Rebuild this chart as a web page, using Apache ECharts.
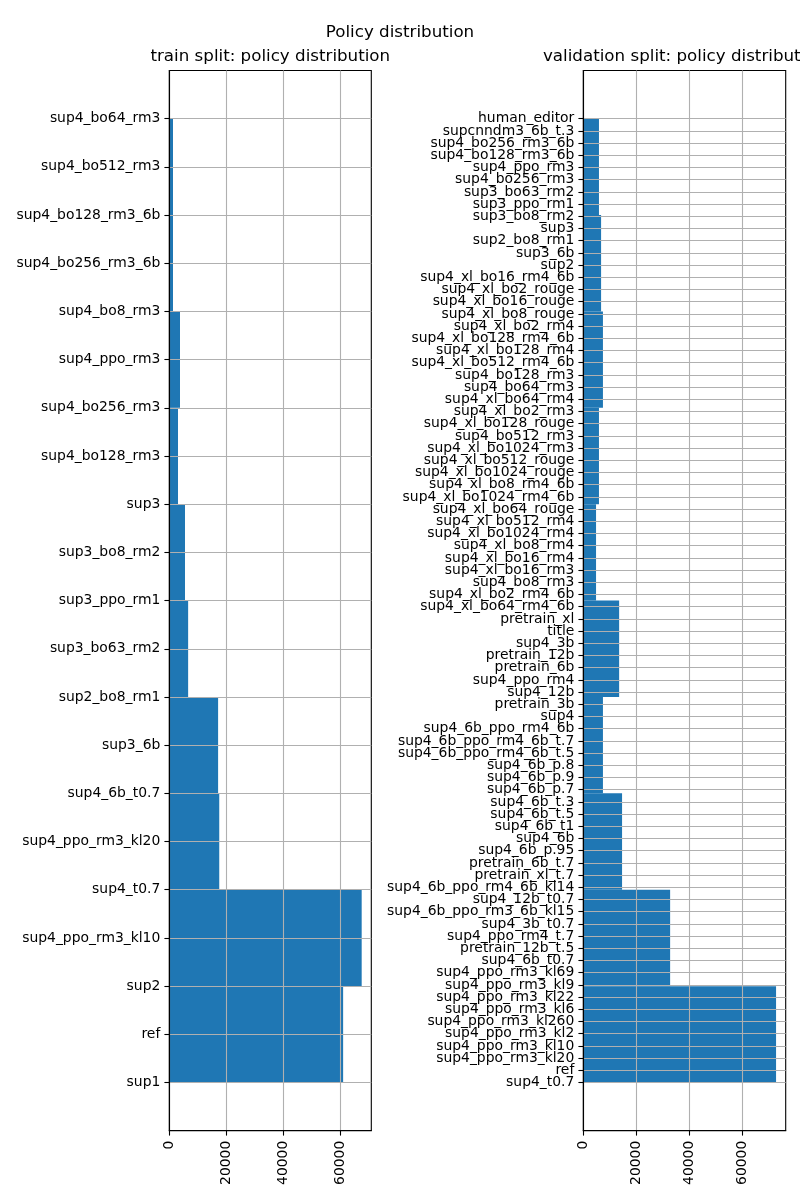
<!DOCTYPE html>
<html><head><meta charset="utf-8">
<script src="https://cdn.jsdelivr.net/npm/echarts@6/dist/echarts.min.js"></script>
<style>html,body{margin:0;padding:0;background:#fff}#c{width:800px;height:1200px}</style>
</head><body><div id="c"></div>
<script>
// categories listed from bottom (index 0) to top
const trainCategories = [
  'sup1','ref','sup2','sup4_ppo_rm3_kl10','sup4_t0.7','sup4_ppo_rm3_kl20','sup4_6b_t0.7','sup3_6b',
  'sup2_bo8_rm1','sup3_bo63_rm2','sup3_ppo_rm1','sup3_bo8_rm2','sup3','sup4_bo128_rm3','sup4_bo256_rm3',
  'sup4_ppo_rm3','sup4_bo8_rm3','sup4_bo256_rm3_6b','sup4_bo128_rm3_6b','sup4_bo512_rm3','sup4_bo64_rm3'
];
// histogram counts of the 10 bins, bottom to top
const trainCounts = [60900, 67400, 17500, 17100, 6600, 5500, 3050, 3750, 1300, 1300];

const valCategories = [
  'sup4_t0.7','ref','sup4_ppo_rm3_kl20','sup4_ppo_rm3_kl10','sup4_ppo_rm3_kl2','sup4_ppo_rm3_kl260',
  'sup4_ppo_rm3_kl6','sup4_ppo_rm3_kl22','sup4_ppo_rm3_kl9','sup4_ppo_rm3_kl69','sup4_6b_t0.7',
  'pretrain_12b_t.5','sup4_ppo_rm4_t.7','sup4_3b_t0.7','sup4_6b_ppo_rm3_6b_kl15','sup4_12b_t0.7',
  'sup4_6b_ppo_rm4_6b_kl14','pretrain_xl_t.7','pretrain_6b_t.7','sup4_6b_p.95','sup4_6b','sup4_6b_t1',
  'sup4_6b_t.5','sup4_6b_t.3','sup4_6b_p.7','sup4_6b_p.9','sup4_6b_p.8','sup4_6b_ppo_rm4_6b_t.5',
  'sup4_6b_ppo_rm4_6b_t.7','sup4_6b_ppo_rm4_6b','sup4','pretrain_3b','sup4_12b','sup4_ppo_rm4',
  'pretrain_6b','pretrain_12b','sup4_3b','title','pretrain_xl','sup4_xl_bo64_rm4_6b','sup4_xl_bo2_rm4_6b',
  'sup4_bo8_rm3','sup4_xl_bo16_rm3','sup4_xl_bo16_rm4','sup4_xl_bo8_rm4','sup4_xl_bo1024_rm4',
  'sup4_xl_bo512_rm4','sup4_xl_bo64_rouge','sup4_xl_bo1024_rm4_6b','sup4_xl_bo8_rm4_6b',
  'sup4_xl_bo1024_rouge','sup4_xl_bo512_rouge','sup4_xl_bo1024_rm3','sup4_bo512_rm3','sup4_xl_bo128_rouge',
  'sup4_xl_bo2_rm3','sup4_xl_bo64_rm4','sup4_bo64_rm3','sup4_bo128_rm3','sup4_xl_bo512_rm4_6b',
  'sup4_xl_bo128_rm4','sup4_xl_bo128_rm4_6b','sup4_xl_bo2_rm4','sup4_xl_bo8_rouge','sup4_xl_bo16_rouge',
  'sup4_xl_bo2_rouge','sup4_xl_bo16_rm4_6b','sup2','sup3_6b','sup2_bo8_rm1','sup3','sup3_bo8_rm2',
  'sup3_ppo_rm1','sup3_bo63_rm2','sup4_bo256_rm3','sup4_ppo_rm3','sup4_bo128_rm3_6b','sup4_bo256_rm3_6b',
  'supcnndm3_6b_t.3','human_editor'
];
const valCounts = [72600, 32700, 14600, 7400, 13500, 4800, 5900, 7400, 6700, 5900];

const xTicks = [0, 20000, 40000, 60000];

function bins(cats, counts) {
  const n = counts.length, hi = cats.length - 1, w = hi / n;
  return counts.map((c, i) => [i * w, (i + 1) * w, c]);
}
function idx(cats) { return cats.map((_, i) => i); }

const FONT = 'DejaVu Sans';
const labelStyle = { color: '#000', fontSize: 13.9, fontFamily: FONT };
const titleStyle = { color: '#000', fontSize: 16.7, fontFamily: FONT, fontWeight: 'normal' };
const spine = { show: true, onZero: false, lineStyle: { color: '#000', width: 1.1 } };
const grid = { color: '#b0b0b0', width: 1.1, type: 'solid' };

function xAxisFor(gi, counts) {
  return {
    gridIndex: gi, type: 'value', min: 0, max: Math.max(...counts) * 1.05, interval: 20000, z: 5,
    axisLine: spine,
    axisTick: { show: true, length: 4.9, customValues: xTicks, lineStyle: { color: '#000', width: 1.1 } },
    axisLabel: Object.assign({ customValues: xTicks, rotate: 90, margin: 10, showMinLabel: true, formatter: v => String(v) }, labelStyle),
    splitLine: { show: true, lineStyle: grid }
  };
}
// labelFilter selects which category labels this axis prints
function yAxisFor(gi, cats, withInterval, labelFilter, primary) {
  const hi = cats.length - 1;
  const labelVals = idx(cats).filter(labelFilter);
  const ax = {
    gridIndex: gi, type: 'value', position: 'left', offset: 0, min: -0.05 * hi, max: hi * 1.05, z: 5,
    axisLine: primary ? spine : { show: false },
    axisTick: primary
      ? { show: true, length: 4.9, customValues: idx(cats), lineStyle: { color: '#000', width: 1.1 } }
      : { show: false },
    axisLabel: Object.assign({
      customValues: labelVals, margin: 9, showMinLabel: true, showMaxLabel: true, hideOverlap: false,
      padding: [4, 0, 0, 0],
      formatter: v => cats[Math.round(v)] || ''
    }, labelStyle),
    splitLine: primary ? { show: true, lineStyle: grid } : { show: false }
  };
  if (withInterval) ax.interval = 1;
  return ax;
}
function renderItem(params, api) {
  const p0 = api.coord([0, api.value(0)]);
  const p1 = api.coord([api.value(2), api.value(1)]);
  return {
    type: 'rect',
    shape: { x: p0[0], y: p1[1], width: p1[0] - p0[0], height: p0[1] - p1[1] },
    style: { fill: '#1f77b4' }
  };
}

const chart = echarts.init(document.getElementById('c'), null, { renderer: 'canvas' });
chart.setOption({
  animation: false,
  backgroundColor: '#fff',
  title: [
    { text: 'Policy distribution', left: 'center', top: 24, padding: 0, textStyle: titleStyle },
    { text: 'train split: policy distribution', left: 270.3, textAlign: 'center', top: 48, padding: 0, textStyle: titleStyle },
    { text: 'validation split: policy distribution', left: 684.5, textAlign: 'center', top: 48, padding: 0, textStyle: titleStyle }
  ],
  grid: [
    { left: 169.3, top: 70.5, width: 202, height: 1060.2, show: true, borderColor: '#000', borderWidth: 1.1, backgroundColor: 'transparent' },
    { left: 583.3, top: 70.5, width: 202.4, height: 1060.2, show: true, borderColor: '#000', borderWidth: 1.1, backgroundColor: 'transparent' }
  ],
  xAxis: [xAxisFor(0, trainCounts), xAxisFor(1, valCounts)],
  yAxis: [
    yAxisFor(0, trainCategories, true, () => true, true),
    yAxisFor(1, valCategories, false, i => i % 2 === 0, true),
    yAxisFor(1, valCategories, false, i => i % 2 === 1, false)
  ],
  series: [
    { type: 'custom', xAxisIndex: 0, yAxisIndex: 0, data: bins(trainCategories, trainCounts), encode: { x: 2, y: [0, 1] }, renderItem, z: 2 },
    { type: 'custom', xAxisIndex: 1, yAxisIndex: 1, data: bins(valCategories, valCounts), encode: { x: 2, y: [0, 1] }, renderItem, z: 2 }
  ]
});
</script>
</body></html>
